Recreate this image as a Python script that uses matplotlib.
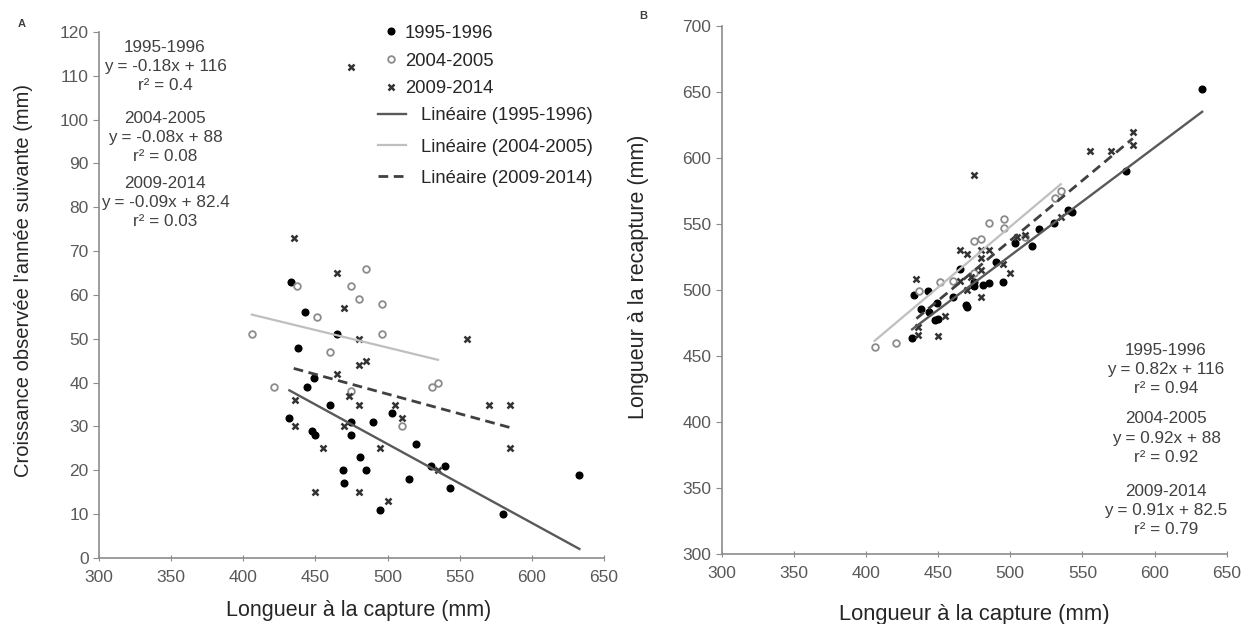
import matplotlib
matplotlib.use("Agg")
import matplotlib.pyplot as plt
import numpy as np

plt.rcParams['font.family'] = ['Liberation Sans', 'DejaVu Sans']

# Panel A : croissance vs longueur a la capture
cap_9596 = [433, 443, 465, 438, 449, 444, 460, 503, 432, 490, 475, 448, 450,
            475, 520, 481, 530, 540, 469, 485, 515, 633, 470, 543, 495, 580]
gr_9596 = [63, 56, 51, 48, 41, 39, 35, 33, 32, 31, 31, 29, 28,
           28, 26, 23, 21, 21, 20, 20, 18, 19, 17, 16, 11, 10]
cap_0405 = [485, 437, 475, 480, 496, 451, 406, 496, 460, 421, 475, 531, 535, 510]
gr_0405 = [66, 62, 62, 59, 58, 55, 51, 51, 47, 39, 38, 39, 40, 30]
cap_0914 = [475, 435, 465, 470, 480, 555, 480, 485, 465, 473, 436, 480, 505,
            570, 585, 510, 436, 470, 455, 495, 585, 535, 450, 480, 500]
gr_0914 = [112, 73, 65, 57, 50, 50, 44, 45, 42, 37, 36, 35, 35,
           35, 35, 32, 30, 30, 25, 25, 25, 20, 15, 15, 13]

# Panel B : longueur a la recapture
rec_9596 = [496, 499, 516, 486, 490, 483, 495, 536, 464, 521, 506, 477, 478,
            503, 546, 504, 551, 561, 489, 505, 533, 652, 487, 559, 506, 590]
rec_0405 = [551, 499, 537, 539, 554, 506, 457, 547, 507, 460, 513, 570, 575, 540]
rec_0914 = [587, 508, 530, 527, 530, 605, 524, 530, 507, 510, 472, 515, 540,
            605, 620, 542, 466, 500, 480, 520, 610, 555, 465, 495, 513]

# regressions (pente, ordonnee, r2)
fitA = {'1995-1996': (-0.18, 116, 0.4), '2004-2005': (-0.08, 88, 0.08), '2009-2014': (-0.09, 82.4, 0.03)}
fitB = {'1995-1996': (0.82, 116, 0.94), '2004-2005': (0.92, 88, 0.92), '2009-2014': (0.91, 82.5, 0.79)}

fig = plt.figure(figsize=(12.54, 6.24), dpi=100)
axA = fig.add_axes([0.0789, 0.1058, 0.4027, 0.843])
axB = fig.add_axes([0.5755, 0.1122, 0.4027, 0.846])

grey = '#8c8c8c'
txtc = '#404040'

def style(ax):
    for s in ['top', 'right']:
        ax.spines[s].set_visible(False)
    for s in ['left', 'bottom']:
        ax.spines[s].set_color(grey)
        ax.spines[s].set_linewidth(1.2)
    ax.tick_params(axis='y', direction='out', length=4, color=grey, labelsize=12.5, labelcolor='#595959')
    ax.tick_params(axis='x', direction='inout', length=5, color=grey, labelsize=12.5, labelcolor='#595959', pad=6)

def draw(ax, y1, y2, y3, fits):
    p1, = ax.plot(cap_9596, y1, 'o', color='black', markersize=4.8, label='1995-1996')
    p2, = ax.plot(cap_0405, y2, 'o', markerfacecolor='white', markeredgecolor=grey,
                  markeredgewidth=1.3, markersize=4.8, label='2004-2005')
    p3, = ax.plot(cap_0914, y3, 'x', color='#333333', markersize=4, markeredgewidth=1.8, label='2009-2014')
    xs = [np.array([min(cap_9596), max(cap_9596)]),
          np.array([min(cap_0405), max(cap_0405)]),
          np.array([min(cap_0914), max(cap_0914)])]
    keys = ['1995-1996', '2004-2005', '2009-2014']
    l1, = ax.plot(xs[0], fits[keys[0]][0] * xs[0] + fits[keys[0]][1], '-', color='#595959', lw=1.7,
                  label='Linéaire (1995-1996)')
    l2, = ax.plot(xs[1], fits[keys[1]][0] * xs[1] + fits[keys[1]][1], '-', color='#bfbfbf', lw=1.6,
                  label='Linéaire (2004-2005)')
    l3, = ax.plot(xs[2], fits[keys[2]][0] * xs[2] + fits[keys[2]][1], '--', color='#404040', lw=2,
                  dashes=(3.5, 2), label='Linéaire (2009-2014)')
    return [p1, p2, p3], [l1, l2, l3]

def eqtext(ax, k, fits, x, y):
    a, b, r = fits[k]
    sign = '-' if a < 0 else ''
    s = k + '\ny = ' + sign + ('%.2f' % abs(a)) + 'x + ' + ('%g' % b) + '\nr² = ' + ('%g' % r)
    ax.text(x, y, s, transform=ax.transAxes, ha='center', va='top', fontsize=12.3,
            color=txtc, linespacing=1.34)

# ---- A ----
pts, lines = draw(axA, gr_9596, gr_0405, gr_0914, fitA)
axA.set_xlim(300, 650)
axA.set_ylim(0, 120)
axA.set_xticks(np.arange(300, 651, 50))
axA.set_yticks(np.arange(0, 121, 10))
style(axA)
axA.set_xlabel('Longueur à la capture (mm)', fontsize=15.5, labelpad=11, color='#262626')
axA.xaxis.label.set_x(0.515)
axA.set_ylabel("Croissance observée l'année suivante (mm)", fontsize=14.5, labelpad=19, color='#262626')
axA.yaxis.label.set_y(0.528)
leg1 = axA.legend(handles=pts, loc='upper left', bbox_to_anchor=(0.535, 1.045), frameon=False,
                  fontsize=13.3, handlelength=0.56, handletextpad=0.47, labelspacing=0.58,
                  labelcolor='#262626')
axA.add_artist(leg1)
axA.legend(handles=lines, loc='upper left', bbox_to_anchor=(0.52, 0.888), frameon=False,
           fontsize=13.3, handlelength=1.5, handletextpad=0.8, labelspacing=0.76,
           labelcolor='#262626')
eqtext(axA, '1995-1996', fitA, 0.131, 0.985)
eqtext(axA, '2004-2005', fitA, 0.131, 0.85)
eqtext(axA, '2009-2014', fitA, 0.131, 0.726)

# ---- B ----
draw(axB, rec_9596, rec_0405, rec_0914, fitB)
axB.set_xlim(300, 650)
axB.set_ylim(300, 700)
axB.set_xticks(np.arange(300, 651, 50))
axB.set_yticks(np.arange(300, 701, 50))
style(axB)
axB.set_xlabel('Longueur à la capture (mm)', fontsize=15.8, labelpad=17, color='#262626')
axB.set_ylabel('Longueur à la recapture (mm)', fontsize=15.5, labelpad=24, color='#262626')
axB.yaxis.label.set_y(0.525)
eqtext(axB, '1995-1996', fitB, 0.88, 0.40)
eqtext(axB, '2004-2005', fitB, 0.88, 0.27)
eqtext(axB, '2009-2014', fitB, 0.88, 0.132)

fig.text(0.0144, 0.957, 'A', fontsize=8, fontweight='bold', color='#404040')
fig.text(0.5096, 0.970, 'B', fontsize=8, fontweight='bold', color='#404040')

plt.savefig('out.png', dpi=100)
plt.close()
